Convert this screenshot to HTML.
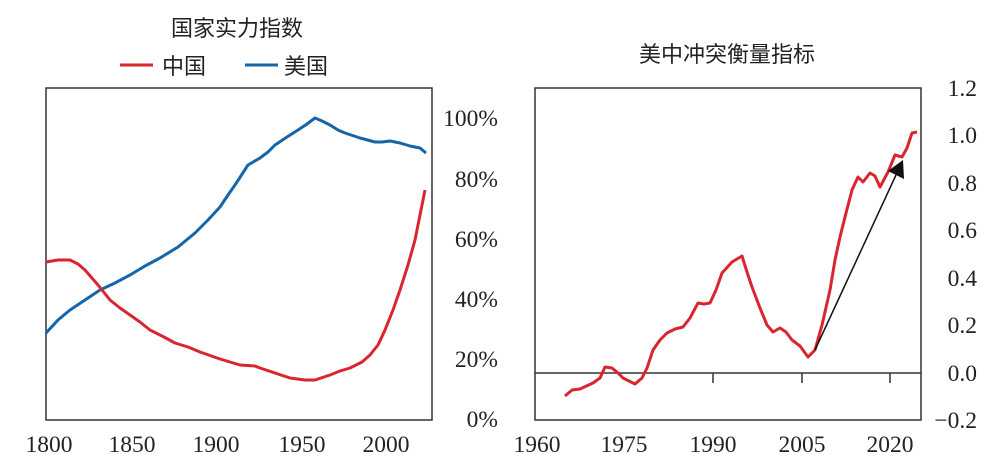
<!DOCTYPE html>
<html><head><meta charset="utf-8"><style>
html,body{margin:0;padding:0;background:#fff;}
svg{display:block;font-family:"Liberation Serif","Noto Serif CJK SC",serif;}
.cj{font-family:"Liberation Sans","Noto Sans CJK SC",sans-serif;}
</style></head><body>
<svg width="1000" height="471" viewBox="0 0 1000 471">
<rect width="1000" height="471" fill="#fff"/>
<text class="cj" x="237" y="36" font-size="22" text-anchor="middle" fill="#222">国家实力指数</text>
<line x1="120" y1="65" x2="153" y2="65" stroke="#d9262e" stroke-width="3"/>
<text class="cj" x="162" y="74" font-size="22" fill="#222">中国</text>
<line x1="245" y1="65" x2="278" y2="65" stroke="#1565a8" stroke-width="3"/>
<text class="cj" x="284" y="74" font-size="22" fill="#222">美国</text>
<rect x="46" y="88" width="386" height="332" fill="none" stroke="#333" stroke-width="1.5"/>
<g font-size="23.5" fill="#222" text-anchor="end">
<text x="498" y="126">100%</text><text x="498" y="187">80%</text><text x="498" y="247">60%</text>
<text x="498" y="307">40%</text><text x="498" y="367">20%</text><text x="498" y="427">0%</text>
</g>
<g font-size="23.5" fill="#222" text-anchor="middle">
<text x="49" y="452">1800</text><text x="132" y="452">1850</text><text x="216" y="452">1900</text>
<text x="302" y="452">1950</text><text x="386" y="452">2000</text>
</g>
<polyline fill="none" stroke="#1565a8" stroke-width="3" stroke-linejoin="round" points="46,333 58,320 70,310 85,300 100,290 115,283 130,275 145,266 160,258 178,247 195,233 208,220 220,207 228,195 235,185 248,165 260,158 268,152 275,145 287,137 298,130 307,124 315,118 322,121 330,125 338,130 345,133 360,138 375,142 382,142 390,141 400,143 410,146 420,148 426,153"/>
<polyline fill="none" stroke="#d9262e" stroke-width="3" stroke-linejoin="round" points="46,262 58,260 70,260 78,264 85,270 98,285 110,300 120,308 130,315 140,322 150,330 162,336 175,343 188,347 200,352 220,359 240,365 255,366 260,368 275,373 290,378 305,380 315,380 330,375 340,371 350,368 362,362 370,355 378,345 385,330 393,310 400,290 408,265 415,240 420,215 425,190"/>
<text class="cj" x="727" y="62" font-size="22" text-anchor="middle" fill="#222">美中冲突衡量指标</text>
<rect x="535" y="88" width="386" height="332" fill="none" stroke="#333" stroke-width="1.5"/>
<line x1="535" y1="373" x2="921" y2="373" stroke="#333" stroke-width="1.5"/>
<g stroke="#333" stroke-width="1.5">
<line x1="713" y1="373" x2="713" y2="383"/><line x1="802" y1="373" x2="802" y2="383"/><line x1="890" y1="373" x2="890" y2="383"/>
</g>
<g font-size="23.5" fill="#222" text-anchor="end">
<text x="977" y="96">1.2</text><text x="977" y="143">1.0</text><text x="977" y="191">0.8</text>
<text x="977" y="238">0.6</text><text x="977" y="286">0.4</text><text x="977" y="333">0.2</text>
<text x="977" y="381">0.0</text><text x="977" y="428">−0.2</text>
</g>
<g font-size="23.5" fill="#222" text-anchor="middle">
<text x="537" y="452">1960</text><text x="624" y="452">1975</text><text x="713" y="452">1990</text>
<text x="802" y="452">2005</text><text x="890" y="452">2020</text>
</g>
<polyline fill="none" stroke="#d9262e" stroke-width="3" stroke-linejoin="round" points="565,396 572,390 580,389 593,383 600,378 605,367 612,368 618,373 623,378 635,384 642,378 647,368 653,350 660,340 667,333 675,329 683,327 690,318 698,303 704,304 710,303 716,290 722,273 732,262 742,256 747,272 752,287 760,308 767,325 773,332 780,328 786,332 792,340 800,346 808,357 815,350 822,325 830,290 835,260 840,237 845,217 852,190 858,177 863,182 870,173 875,176 880,187 888,172 895,155 902,157 907,148 912,133 917,132"/>
<line x1="815" y1="350" x2="896" y2="175" stroke="#111" stroke-width="1.5"/>
<polygon points="903,160 904,179 888,171" fill="#111"/>
</svg>
</body></html>
